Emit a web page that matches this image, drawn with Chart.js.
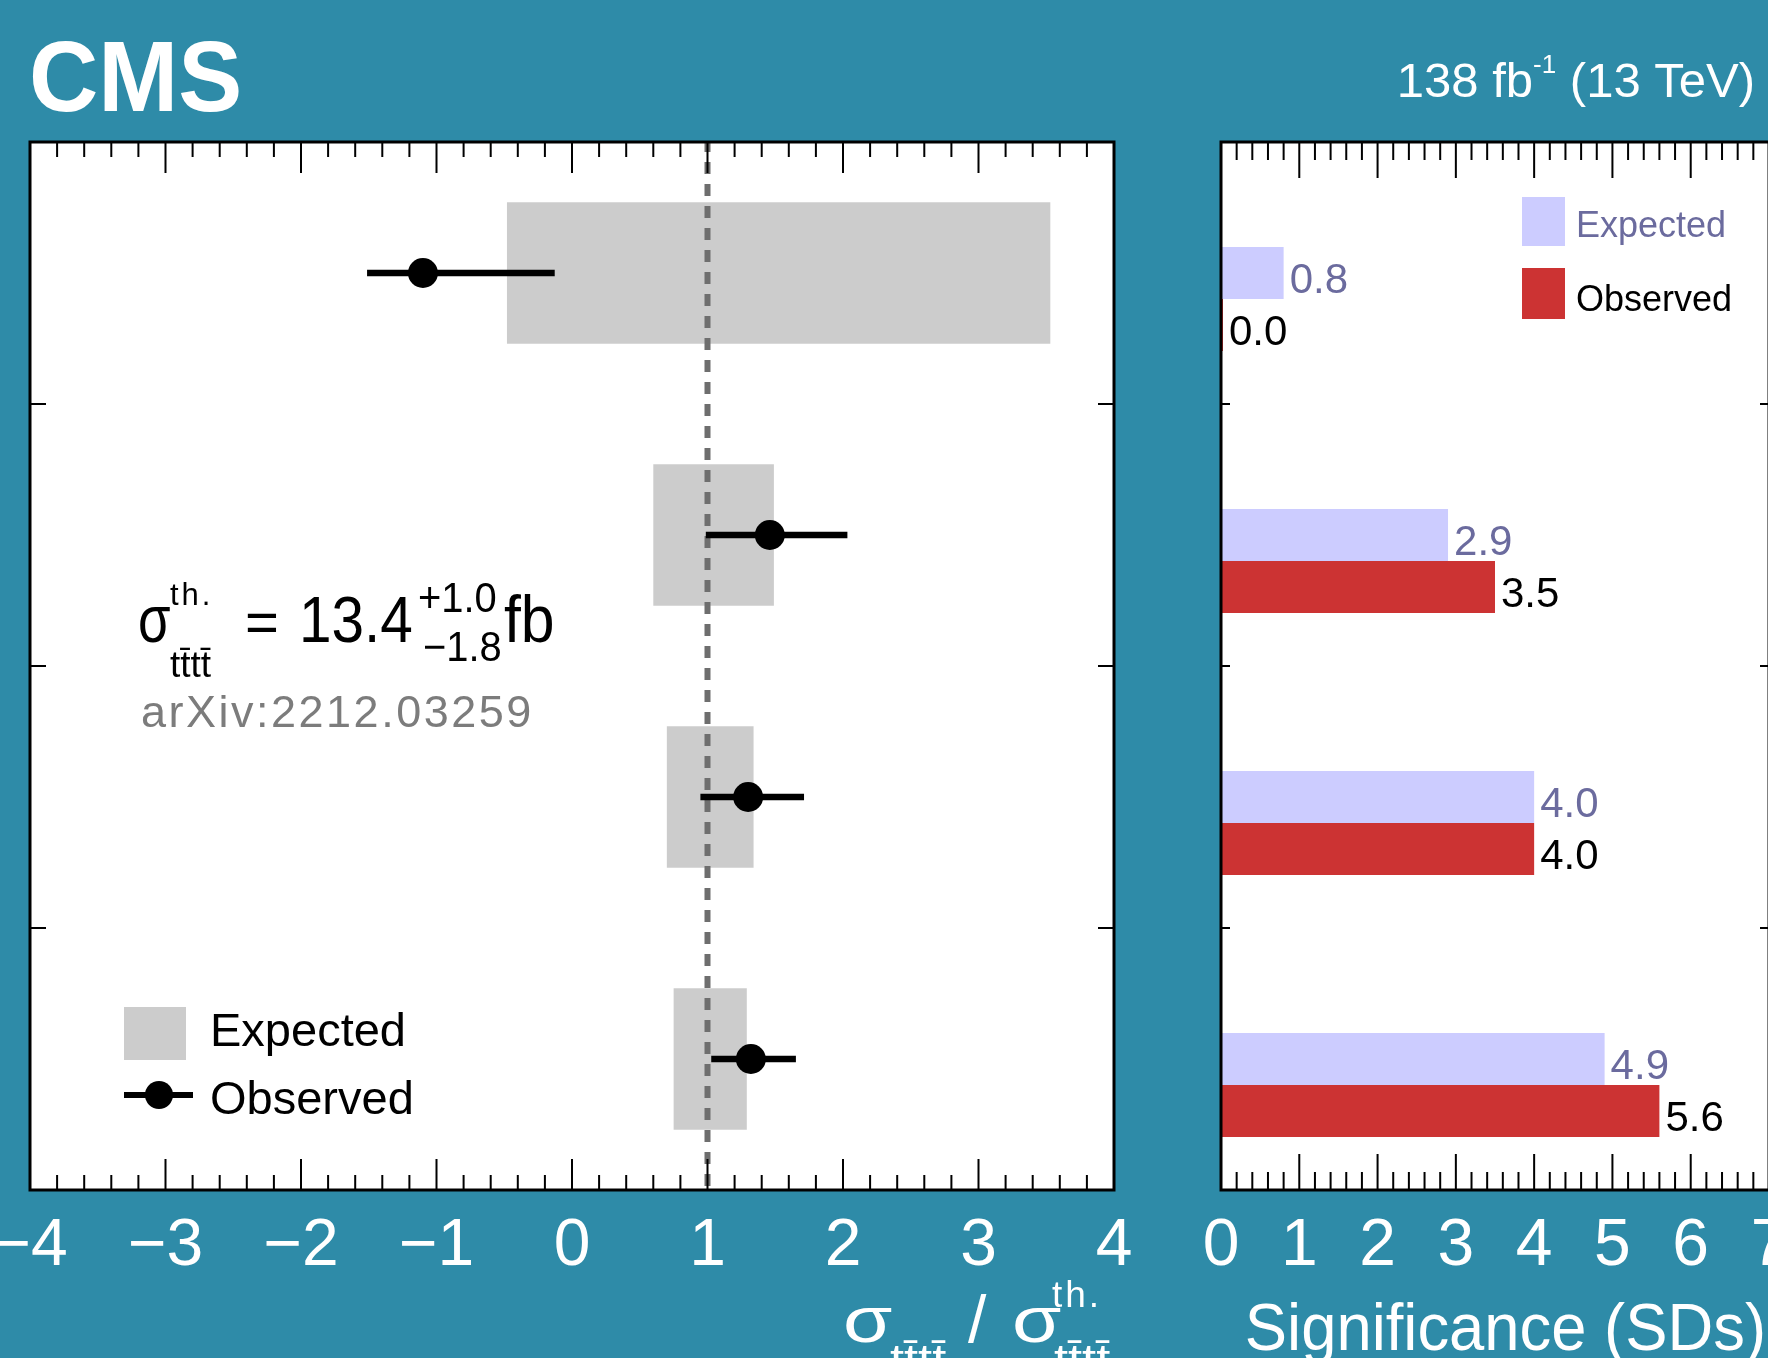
<!DOCTYPE html>
<html>
<head>
<meta charset="utf-8">
<script src="https://cdn.jsdelivr.net/npm/chart.js@4.4.0/dist/chart.umd.min.js"></script>
<style>
  html, body { margin: 0; padding: 0; }
  body { width: 1768px; height: 1358px; overflow: hidden; background: #2e8ba8; position: relative; }
  canvas { position: absolute; top: 0; }
  #ratioChart { left: -100px; }
  #signifChart { left: 1120px; }
</style>
</head>
<body>
<canvas id="ratioChart" width="1268" height="1358"></canvas>
<canvas id="signifChart" width="800" height="1358"></canvas>
<script>
// rows, top to bottom
const categories = ['4ℓ', '2ℓSS', '3ℓ', 'Combined'];

// left panel: sigma / sigma_th
const expLow = [-0.48, 0.60, 0.70, 0.75];
const expHigh = [3.53, 1.49, 1.34, 1.29];
const obsValue = [-1.10, 1.46, 1.30, 1.32];
const obsLow = [-1.51, 0.99, 0.95, 1.03];
const obsHigh = [-0.13, 2.03, 1.71, 1.65];
const ratioTicks = [-4, -3, -2, -1, 0, 1, 2, 3, 4];
const refLine = 1;

// right panel: significance
const expSignif = [0.8, 2.9, 4.0, 4.9];
const obsSignif = [0.0, 3.5, 4.0, 5.6];
const signifTicks = [0, 1, 2, 3, 4, 5, 6, 7];

const FONT = "'Liberation Sans', Arial, Helvetica, sans-serif";
const EXP_TEXT = '#6b6b9e';
Chart.defaults.font.family = FONT;

// o: {size, color, align, bold, sx, ls}
function txt(ctx, s, x, y, o) {
  ctx.save();
  ctx.font = (o.bold ? 'bold ' : '') + o.size + 'px ' + FONT;
  ctx.fillStyle = o.color || '#000';
  ctx.textAlign = o.align || 'left';
  ctx.textBaseline = 'alphabetic';
  if (o.ls) ctx.letterSpacing = o.ls + 'px';
  ctx.translate(x, y);
  ctx.scale(o.sx || 1, 1);
  ctx.fillText(s, 0, 0);
  ctx.restore();
}

function textWidth(ctx, s, size) {
  ctx.save();
  ctx.font = size + 'px ' + FONT;
  const w = ctx.measureText(s).width;
  ctx.restore();
  return w;
}

function whiteArea(chart) {
  const {ctx, chartArea: a} = chart;
  ctx.save();
  ctx.fillStyle = '#fff';
  ctx.fillRect(a.left, a.top, a.right - a.left, a.bottom - a.top);
  ctx.restore();
}

// ROOT style frame: inward ticks on all four sides
function frameTicks(chart, t) {
  const {ctx, chartArea: a} = chart;
  const xs = chart.scales.x, ys = chart.scales.y;
  ctx.save();
  ctx.strokeStyle = '#000';
  ctx.lineWidth = 2;
  ctx.beginPath();
  const k0 = Math.round(xs.min * 5), k1 = Math.round(xs.max * 5);
  for (let k = k0; k <= k1; k++) {
    const px = xs.getPixelForValue(k / 5);
    const len = k % 5 === 0 ? t.major : t.minor;
    ctx.moveTo(px, a.bottom); ctx.lineTo(px, a.bottom - len);
    ctx.moveTo(px, a.top); ctx.lineTo(px, a.top + len);
  }
  for (let i = 1; i < categories.length; i++) {
    const py = (ys.getPixelForValue(i - 1) + ys.getPixelForValue(i)) / 2;
    ctx.moveTo(a.left, py); ctx.lineTo(a.left + t.y, py);
    ctx.moveTo(a.right, py); ctx.lineTo(a.right - t.y, py);
  }
  ctx.stroke();
  ctx.lineWidth = 3;
  ctx.strokeRect(a.left, a.top, a.right - a.left, a.bottom - a.top);
  ctx.restore();
}

const TTTT = 'tt\u0304tt\u0304';
const W = '#fff';

const ratioDecor = {
  id: 'ratioDecor',
  beforeDraw: whiteArea,
  afterDatasetDraw(chart, args) {
    if (args.index !== 0) return;
    const {ctx, chartArea: a} = chart;
    const px = chart.scales.x.getPixelForValue(refLine);
    ctx.save();
    ctx.setLineDash([12, 10]);
    ctx.lineDashOffset = 2;
    ctx.strokeStyle = '#6e6e6e';
    ctx.lineWidth = 6;
    ctx.beginPath();
    ctx.moveTo(px, a.top);
    ctx.lineTo(px, a.bottom);
    ctx.stroke();
    ctx.restore();
  },
  afterDraw(chart) {
    const ctx = chart.ctx;
    frameTicks(chart, {major: 31, minor: 15, y: 16});
    const ds = chart.data.datasets;
    ctx.save();
    ctx.translate(100, 0); // page coordinates from here on

    // legend
    ctx.fillStyle = ds[0].backgroundColor;
    ctx.fillRect(124, 1007, 62, 53);
    txt(ctx, ds[0].label, 210, 1046, {size: 47});
    ctx.strokeStyle = '#000';
    ctx.lineWidth = 6;
    ctx.beginPath(); ctx.moveTo(124, 1095); ctx.lineTo(193, 1095); ctx.stroke();
    ctx.fillStyle = '#000';
    ctx.beginPath(); ctx.arc(159, 1095, 14, 0, Math.PI * 2); ctx.fill();
    txt(ctx, ds[2].label, 210, 1114, {size: 47});

    // theory cross section
    txt(ctx, 'σ', 138, 642, {size: 66, sx: 0.8});
    txt(ctx, 'th.', 170, 605, {size: 31, ls: 3});
    txt(ctx, TTTT, 170, 677, {size: 37});
    txt(ctx, '=', 245, 642, {size: 58});
    txt(ctx, '13.4', 299, 642, {size: 65, sx: 0.9});
    txt(ctx, '+1.0', 418, 612, {size: 42, sx: 0.95});
    txt(ctx, '\u22121.8', 423, 661, {size: 42, sx: 0.95});
    txt(ctx, 'fb', 504, 642, {size: 66, sx: 0.92});
    txt(ctx, 'arXiv:2212.03259', 141, 727, {size: 45, ls: 2.5, color: '#7c7c7c'});

    // axis title under the frame
    txt(ctx, 'σ', 843, 1342, {size: 64, sx: 1.25, color: W});
    txt(ctx, TTTT, 890, 1375, {size: 44, sx: 1.15, color: W});
    txt(ctx, '/', 968, 1342, {size: 66, color: W});
    txt(ctx, 'σ', 1012, 1342, {size: 64, sx: 1.25, color: W});
    txt(ctx, 'th.', 1052, 1307, {size: 37, ls: 3, color: W});
    txt(ctx, TTTT, 1054, 1375, {size: 44, sx: 1.15, color: W});

    txt(ctx, 'CMS', 29, 111, {size: 101, sx: 0.95, bold: true, color: W});
    ctx.restore();
  }
};

const signifDecor = {
  id: 'signifDecor',
  beforeDraw: whiteArea,
  afterDatasetsDraw(chart) {
    const ctx = chart.ctx;
    [[1, EXP_TEXT], [2, '#000']].forEach(([di, col]) => {
      const vals = chart.data.datasets[di].data;
      chart.getDatasetMeta(di).data.forEach((bar, i) => {
        txt(ctx, vals[i].toFixed(1), bar.x + 6, bar.y + 20, {size: 42, color: col});
      });
    });
  },
  afterDraw(chart) {
    const ctx = chart.ctx;
    frameTicks(chart, {major: 36, minor: 18, y: 9});
    const ds = chart.data.datasets;
    ctx.save();
    ctx.translate(-1120, 0);

    // legend
    ctx.fillStyle = ds[1].backgroundColor;
    ctx.fillRect(1522, 197, 43, 49);
    txt(ctx, ds[1].label, 1576, 237, {size: 36, color: EXP_TEXT});
    ctx.fillStyle = ds[2].backgroundColor;
    ctx.fillRect(1522, 268, 43, 51);
    txt(ctx, ds[2].label, 1576, 311, {size: 36});

    txt(ctx, 'Significance (SDs)', 1766, 1350, {size: 66, sx: 0.96, color: W, align: 'right'});

    // luminosity label
    const w1 = textWidth(ctx, '138 fb', 49), w2 = textWidth(ctx, '-1', 26), w3 = textWidth(ctx, ' (13 TeV)', 49);
    let x = 1755 - (w1 + w2 + w3);
    txt(ctx, '138 fb', x, 97, {size: 49, color: W}); x += w1;
    txt(ctx, '-1', x, 73, {size: 26, color: W}); x += w2;
    txt(ctx, ' (13 TeV)', x, 97, {size: 49, color: W});
    ctx.restore();
  }
};

function xAxis(min, max, tickValues, callback) {
  return {
    type: 'linear',
    min: min,
    max: max,
    afterBuildTicks: (scale) => { scale.ticks = tickValues.map(v => ({value: v})); },
    ticks: {
      color: '#fff',
      font: {size: 66, lineHeight: 1},
      padding: 16,
      autoSkip: false,
      maxRotation: 0,
      callback: callback
    },
    grid: {display: false},
    border: {display: false}
  };
}

const ratioConfig = {
  type: 'bar',
  data: {
    labels: categories,
    datasets: [
      {
        type: 'bar',
        label: 'Expected',
        data: expLow.map((lo, i) => [lo, expHigh[i]]),
        backgroundColor: '#cccccc',
        grouped: false,
        barPercentage: 0.54,
        categoryPercentage: 1,
        indexAxis: 'y',
        order: 3
      },
      {
        type: 'bar',
        label: 'Observed uncertainty',
        data: obsLow.map((lo, i) => [lo, obsHigh[i]]),
        backgroundColor: '#000000',
        grouped: false,
        barThickness: 6,
        indexAxis: 'y',
        order: 2
      },
      {
        type: 'line',
        label: 'Observed',
        data: obsValue,
        showLine: false,
        pointRadius: 15,
        pointHoverRadius: 15,
        pointBackgroundColor: '#000000',
        pointBorderColor: '#000000',
        pointBorderWidth: 0,
        indexAxis: 'y',
        order: 1
      }
    ]
  },
  options: {
    indexAxis: 'y',
    responsive: false,
    animation: false,
    layout: {padding: {left: 130, right: 54, top: 142, bottom: 70}},
    scales: {
      x: xAxis(-4, 4, ratioTicks, v => v < 0 ? '\u2212' + (-v) : String(v)),
      y: {type: 'category', display: false}
    },
    plugins: {legend: {display: false}, tooltip: {enabled: false}}
  },
  plugins: [ratioDecor]
};

const signifConfig = {
  type: 'bar',
  data: {
    labels: categories,
    datasets: [
      // empty slot above the expected bar, so that expected sits on the row centre
      {label: '', data: categories.map(() => null)},
      {label: 'Expected', data: expSignif, backgroundColor: '#ccccff'},
      {label: 'Observed', data: obsSignif, backgroundColor: '#cc3333', minBarLength: 2}
    ]
  },
  options: {
    indexAxis: 'y',
    responsive: false,
    animation: false,
    layout: {padding: {left: 101, right: 151, top: 142, bottom: 70}},
    datasets: {bar: {barPercentage: 1, categoryPercentage: 0.595}},
    scales: {
      x: xAxis(0, 7, signifTicks, v => String(v)),
      y: {type: 'category', display: false}
    },
    plugins: {legend: {display: false}, tooltip: {enabled: false}}
  },
  plugins: [signifDecor]
};

const ratioChart = new Chart(document.querySelector('#ratioChart'), ratioConfig);
const signifChart = new Chart(document.querySelector('#signifChart'), signifConfig);

// keep the frame bottom at the same place as in the figure
[[ratioChart, ratioConfig], [signifChart, signifConfig]].forEach(([chart, cfg]) => {
  const diff = chart.chartArea.bottom - 1190;
  if (Math.abs(diff) > 0.5) {
    cfg.options.layout.padding.bottom += diff;
    chart.update();
  }
});
</script>
</body>
</html>
